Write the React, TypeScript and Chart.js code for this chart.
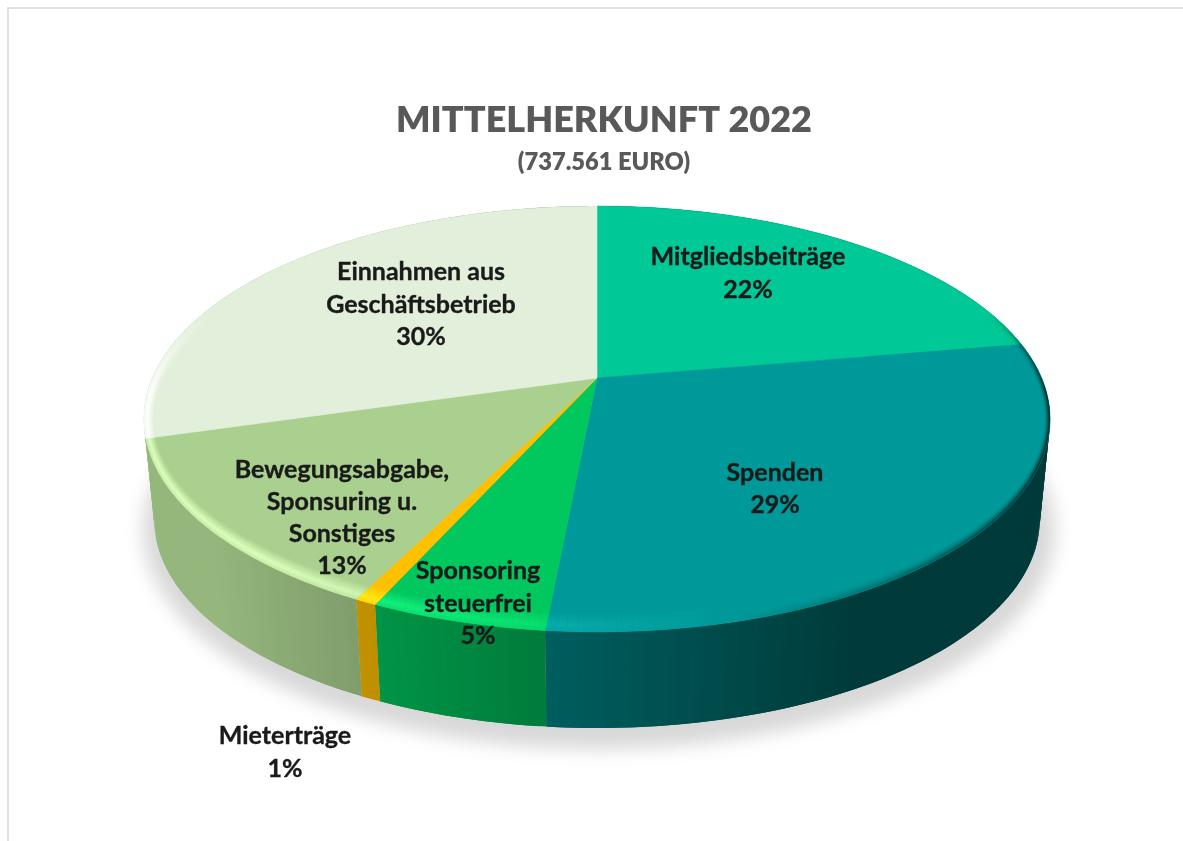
import React, { useEffect, useRef } from "react";
import { Chart, registerables } from "chart.js";

Chart.register(...registerables);

const categories = ["Mitgliedsbeiträge", "Spenden", "Sponsoring steuerfrei", "Mieterträge", "Bewegungsabgabe, Sponsuring u. Sonstiges", "Einnahmen aus Geschäftsbetrieb"];
const shares = [22.3, 29.2, 5.25, 0.65, 13.1, 29.5];
const shownPercent = ["22%", "29%", "5%", "1%", "13%", "30%"];
const sliceColors = ["#00c896", "#009999", "#00c85f", "#ffc000", "#a9d08e", "#e2efda"];
const labelLines = [
  ["Mitgliedsbeiträge"],
  ["Spenden"],
  ["Sponsoring", "steuerfrei"],
  ["Mieterträge"],
  ["Bewegungsabgabe,", "Sponsuring u.", "Sonstiges"],
  ["Einnahmen aus", "Geschäftsbetrieb"],
];
const titleText = "MITTELHERKUNFT 2022";
const subtitleText = "(737.561 EURO)";

// layout of the tilted disc (not data)
const APEX_X = 597, APEX_Y = 378, K = -0.1925, RX = 444.6, RY = 205;
const MID_Y = 419, LOW_MID_Y = 520, LOW_SCALE = 0.977;
const labelCenters = [
  [748, 257, 33], [775, 473, 32], [478, 571, 32.5], [285, 736, 33], [342, 470, 32], [421, 272, 32.5],
];

const hex = (c: string) => [1, 3, 5].map((i) => parseInt(c.slice(i, i + 2), 16));
const mix = (c: number[], t: number[], f: number) => `rgb(${c.map((v, i) => Math.round(v + (t[i] - v) * f)).join(",")})`;
const clamp = (v: number, a: number, b: number) => Math.max(a, Math.min(b, v));
const brighter = (c: number[]) => c.map((v) => Math.min(255, v * 1.15 + 25));

function rim(theta: number) {
  const u = Math.sin(theta), v = -Math.cos(theta), d = 1 + K * v;
  return { x: APEX_X + (RX * u) / d, y: APEX_Y + (RY * v) / d, u, v };
}
const lower = (p: { x: number; y: number }) => ({
  x: APEX_X + (p.x - APEX_X) * LOW_SCALE,
  y: LOW_MID_Y + (p.y - MID_Y) * LOW_SCALE,
});
const inset = (p: { x: number; y: number }, s: number) => ({
  x: p.x - ((p.x - APEX_X) / 453) * 9 * s,
  y: p.y - ((p.y - MID_Y) / 213) * 19 * s,
});

const discPlugin = {
  id: "tiltedDisc",
  beforeDatasetDraw(chart: any) {
    const ctx: CanvasRenderingContext2D = chart.ctx;
    const arcs = chart.getDatasetMeta(0).data;
    const spans = arcs.map((a: any) => {
      const p = a.getProps(["startAngle", "endAngle"], true);
      return [p.startAngle + Math.PI / 2, p.endAngle + Math.PI / 2];
    });

    // soft ground shadow
    ctx.save();
    ctx.filter = "blur(9px)";
    ctx.fillStyle = "#d8d8d8";
    ctx.beginPath();
    ctx.ellipse(599, 530, 456, 219, 0, 0, Math.PI * 2);
    ctx.fill();
    ctx.restore();

    // side wall; the sliver at the far left continues the neighbouring slice's wall
    spans.forEach(([a, b]: number[], i: number) => {
      const base = hex(sliceColors[i === spans.length - 1 ? i - 1 : i]);
      const n = Math.max(2, Math.ceil((b - a) / 0.012));
      for (let j = 0; j < n; j++) {
        const p0 = rim(a + ((b - a) * j) / n);
        const p1 = rim(a + ((b - a) * Math.min(n, j + 2)) / n);
        const q0 = lower(p0), q1 = lower(p1);
        ctx.fillStyle = mix(base, [0, 0, 0], clamp(0.42 + 0.4 * p0.u, 0.12, 0.62));
        ctx.beginPath();
        ctx.moveTo(p0.x, p0.y);
        ctx.lineTo(p1.x, p1.y);
        ctx.lineTo(q1.x, q1.y);
        ctx.lineTo(q0.x, q0.y);
        ctx.closePath();
        ctx.fill();
      }
    });

    // top face with bevel
    spans.forEach(([a, b]: number[], i: number) => {
      const base = hex(sliceColors[i]);
      const bright = brighter(base);
      const n = Math.max(2, Math.ceil((b - a) / 0.01));
      ctx.save();
      ctx.beginPath();
      ctx.moveTo(APEX_X, APEX_Y);
      for (let j = 0; j <= n; j++) {
        const p = rim(a + ((b - a) * j) / n);
        ctx.lineTo(p.x, p.y);
      }
      ctx.closePath();
      ctx.fillStyle = sliceColors[i];
      ctx.strokeStyle = sliceColors[i];
      ctx.lineWidth = 0.6;
      ctx.fill();
      ctx.stroke();
      ctx.clip();
      const strips = 10;
      for (let s = strips - 1; s >= 0; s--) {
        const t = (s + 0.5) / strips; // 0 at rim, 1 at inner edge
        for (let j = -3; j < n + 3; j++) {
          const th0 = a + ((b - a) * j) / n;
          const th1 = a + ((b - a) * (j + 1)) / n;
          const p0 = rim(th0), p1 = rim(th1);
          const gate = clamp((p0.v + 0.35) / 0.5, 0, 1);
          const light = (-1.2 * p0.u + 0.3 * p0.v) * gate;
          const i0 = inset(p0, t), i1 = inset(p1, t);
          let col: string | null = null;
          if (light > 0.03) {
            const prof = t < 0.3 ? 0.6 + (t / 0.3) * 0.4 : 1 - (t - 0.3) / 0.7;
            col = mix(base, bright, clamp(light, 0, 1) * prof);
          } else if (light < -0.03) {
            const e = Math.max(0, 1 - t * 1.6);
            col = mix(base, [0, 0, 0], clamp(-light, 0, 1) * e * e * 0.75);
          }
          if (!col) continue;
          ctx.strokeStyle = col;
          ctx.lineWidth = 2.6;
          ctx.beginPath();
          ctx.moveTo(i0.x, i0.y);
          ctx.lineTo(i1.x, i1.y);
          ctx.stroke();
        }
      }
      ctx.restore();
    });
    return false;
  },
  afterDatasetsDraw(chart: any) {
    const ctx: CanvasRenderingContext2D = chart.ctx;
    ctx.save();
    ctx.font = "bold 25px Lato";
    ctx.fillStyle = "#1a1a1a";
    ctx.strokeStyle = "#1a1a1a";
    ctx.lineWidth = 0.35;
    ctx.textAlign = "center";
    ctx.textBaseline = "middle";
    labelLines.forEach((lines, i) => {
      const [x, y, gap] = labelCenters[i];
      [...lines, shownPercent[i]].forEach((t, j) => {
        ctx.fillText(t, x, y + j * gap);
        ctx.strokeText(t, x, y + j * gap);
      });
    });
    ctx.restore();
  },
};

export default function App() {
  const ref = useRef<HTMLCanvasElement | null>(null);
  useEffect(() => {
    const chart = new Chart(ref.current!, {
      type: "pie",
      data: {
        labels: categories,
        datasets: [{ data: shares, backgroundColor: sliceColors, borderWidth: 0 }],
      },
      options: {
        responsive: false,
        animation: false,
        layout: { padding: { left: 25, right: 0, top: 0, bottom: 0 } },
        plugins: {
          legend: { display: false },
          tooltip: { enabled: false },
          title: {
            display: true,
            text: titleText,
            color: "#595959",
            font: { family: "Lato", size: 36, weight: "800" },
            padding: { top: 99, bottom: 6 },
          },
          subtitle: {
            display: true,
            text: subtitleText,
            color: "#595959",
            font: { family: "Lato", size: 23.7, weight: "800" },
            padding: { top: 0, bottom: 10 },
          },
        },
      },
      plugins: [discPlugin],
    } as any);
    return () => chart.destroy();
  }, []);
  return (
    <div style={{ position: "fixed", left: 0, top: 0, width: 1183, height: 841, background: "#fff", overflow: "hidden" }}>
      <canvas ref={ref} width={1183} height={841} style={{ position: "absolute", left: 0, top: 0, display: "block" }} />
      <div style={{ position: "absolute", left: 7, top: 7, right: 0, bottom: 0, borderLeft: "2px solid #e2e2e2", borderTop: "2px solid #e2e2e2" }} />
    </div>
  );
}
